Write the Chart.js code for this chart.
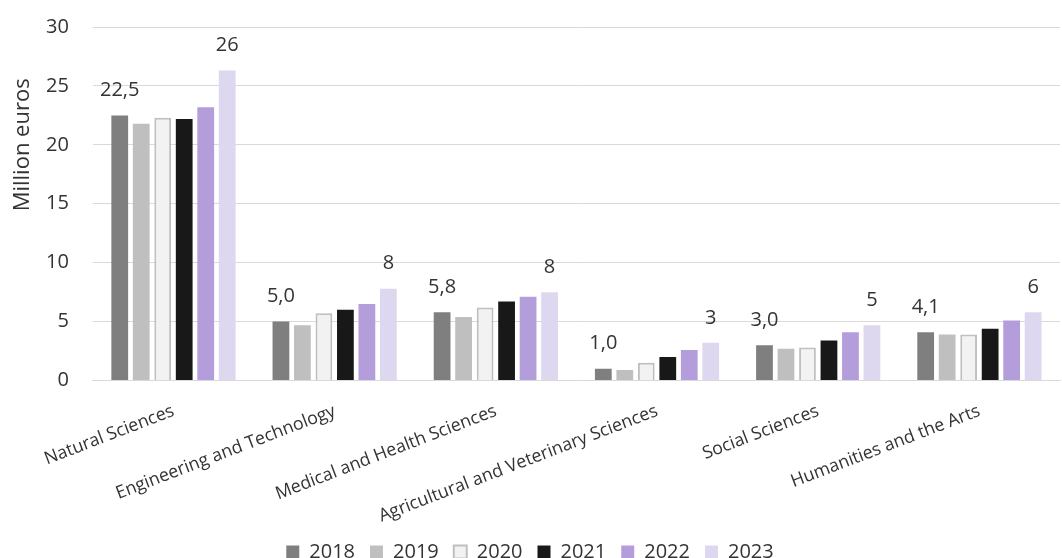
<!DOCTYPE html>
<html>
<head>
<meta charset="utf-8">
<script src="https://cdn.jsdelivr.net/npm/chart.js@4.4.1/dist/chart.umd.min.js"></script>
<style>
  html, body { margin: 0; padding: 0; background: #fff; }
  #wrap { width: 1062px; height: 558px; }
</style>
</head>
<body>
<div id="wrap"><canvas id="fundingChart"></canvas></div>
<script>
const fields = ['Natural Sciences', 'Engineering and Technology', 'Medical and Health Sciences',
  'Agricultural and Veterinary Sciences', 'Social Sciences', 'Humanities and the Arts'];
const years = ['2018', '2019', '2020', '2021', '2022', '2023'];

const v2018 = [22.5, 5.0, 5.8, 1.0, 3.0, 4.1];
const v2019 = [21.8, 4.7, 5.4, 0.9, 2.7, 3.9];
const v2020 = [22.3, 5.7, 6.2, 1.5, 2.8, 3.9];
const v2021 = [22.2, 6.0, 6.7, 2.0, 3.4, 4.4];
const v2022 = [23.2, 6.5, 7.1, 2.6, 4.1, 5.1];
const v2023 = [26.3, 7.8, 7.5, 3.2, 4.7, 5.8];

const yTicks = [0, 5, 10, 15, 20, 25, 30];

const FONT = '"Open Sans", "Noto Sans", sans-serif';
const TEXT = '#333333';

// value labels above the 2018 (one decimal) and 2023 (whole number) bars
const valueLabels = {
  id: 'valueLabels',
  afterDatasetsDraw(chart) {
    const ctx = chart.ctx;
    ctx.save();
    ctx.font = '20px ' + FONT;
    ctx.fillStyle = TEXT;
    ctx.textAlign = 'center';
    ctx.textBaseline = 'middle';
    chart.data.datasets.forEach((ds, i) => {
      if (ds.labelDigits === undefined) return;
      chart.getDatasetMeta(i).data.forEach((bar, j) => {
        const txt = ds.data[j].toFixed(ds.labelDigits).replace('.', ',');
        ctx.fillText(txt, bar.x, bar.y - 25);
      });
    });
    ctx.restore();
  }
};

// rotated y axis title, sitting a bit above the middle of the axis
const yTitle = {
  id: 'yTitle',
  afterDraw(chart) {
    const ctx = chart.ctx;
    const y = chart.scales.y.getPixelForValue(20);
    ctx.save();
    ctx.translate(23, y);
    ctx.rotate(-Math.PI / 2);
    ctx.font = '22px ' + FONT;
    ctx.fillStyle = TEXT;
    ctx.textAlign = 'center';
    ctx.textBaseline = 'middle';
    ctx.fillText('Million euros', 0, 0);
    ctx.restore();
  }
};

const series = [
  { label: years[0], data: v2018, backgroundColor: '#7f7f7f', labelDigits: 1 },
  { label: years[1], data: v2019, backgroundColor: '#bfbfbf' },
  { label: years[2], data: v2020, backgroundColor: '#f2f2f2', borderColor: '#bfbfbf', borderWidth: 2 },
  { label: years[3], data: v2021, backgroundColor: '#181818' },
  { label: years[4], data: v2022, backgroundColor: '#b39ddb' },
  { label: years[5], data: v2023, backgroundColor: '#ded7f0', labelDigits: 0 }
];

new Chart(document.getElementById('fundingChart'), {
  type: 'bar',
  data: {
    labels: fields,
    datasets: series.map(s => Object.assign({
      borderColor: s.backgroundColor,
      borderWidth: 0,
      categoryPercentage: 0.8,
      barPercentage: 0.78
    }, s))
  },
  options: {
    responsive: true,
    maintainAspectRatio: false,
    animation: false,
    layout: { padding: { left: 0, right: 2, top: 0, bottom: -14 } },
    plugins: {
      legend: {
        position: 'bottom',
        labels: {
          font: { family: FONT, size: 20 },
          color: TEXT,
          boxWidth: 13,
          boxHeight: 13,
          padding: 15
        }
      },
      tooltip: { enabled: false }
    },
    scales: {
      x: {
        grid: { display: false, drawTicks: false },
        border: { color: '#d9d9d9', width: 1 },
        ticks: {
          font: { family: FONT, size: 17.8 },
          color: TEXT,
          maxRotation: 21,
          minRotation: 21,
          padding: 20,
          autoSkip: false
        },
        // the long rotated labels may run into the legend's empty top padding
        afterFit: axis => { axis.height -= 20; }
      },
      y: {
        min: 0,
        max: 30,
        afterBuildTicks: axis => { axis.ticks = yTicks.map(v => ({ value: v })); },
        // leave room on the left for the axis title drawn by yTitle
        afterFit: axis => { axis.width += 31; },
        grid: { color: '#d9d9d9', tickColor: 'rgba(0,0,0,0)', tickLength: 9 },
        border: { display: false },
        ticks: {
          font: { family: FONT, size: 20 },
          color: TEXT,
          padding: 15
        }
      }
    }
  },
  plugins: [valueLabels, yTitle]
});
</script>
</body>
</html>
